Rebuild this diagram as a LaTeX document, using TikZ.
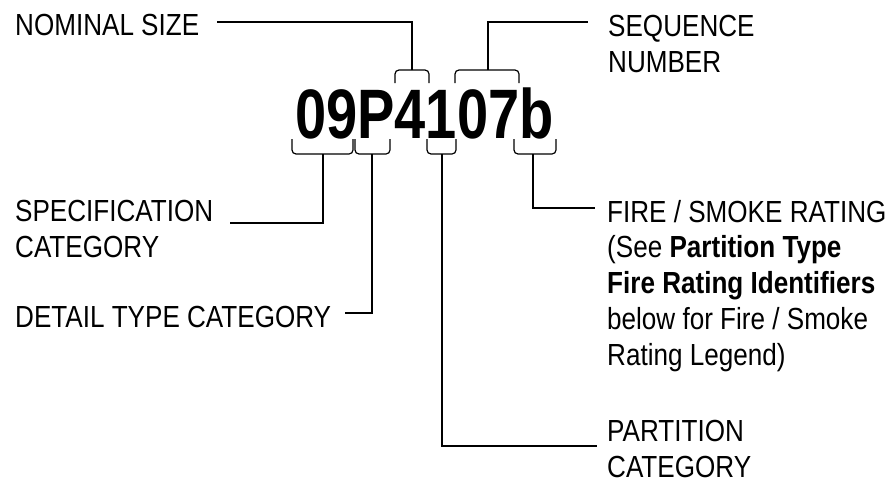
\documentclass[tikz,border=0pt]{standalone}
\usepackage{fontspec}
\setmainfont{Liberation Sans}[FakeStretch=0.855]
\newfontfamily\codefont{Liberation Sans}[FakeStretch=0.8]
\usepackage{tikz}
\tikzstyle{label}=[anchor=base west, inner sep=0pt, align=left, font=\fontsize{30.5}{35.7}\selectfont]
\tikzstyle{code}=[anchor=base west, inner sep=0pt, font=\codefont\bfseries\fontsize{70}{70}\selectfont]
\tikzstyle{brace}=[draw=black, line width=1.2pt, rounded corners=4pt]
\tikzstyle{leader}=[draw=black, line width=1.2pt]

\begin{document}
\begin{tikzpicture}[x=1pt, y=-1pt]
				\useasboundingbox (0,0) rectangle (894,482);
				\node [style=code] (code) at (295, 138) {09P4107b};
				\node [style=label] (nom) at (15, 35) {NOMINAL SIZE};
				\node [style=label] (seq) at (608, 72) {SEQUENCE\\NUMBER};
				\node [style=label] (spec) at (15, 257) {SPECIFICATION\\CATEGORY};
				\node [style=label] (det) at (15, 327) {DETAIL TYPE CATEGORY};
				\node [style=label] (fire) at (607, 365) {FIRE / SMOKE RATING\\(See \textbf{Partition Type}\\\textbf{Fire Rating Identifiers}\\below for Fire / Smoke\\Rating Legend)};
				\node [style=label] (part) at (607, 477) {PARTITION\\CATEGORY};
				\coordinate (b4) at (412, 70);
				\coordinate (b07) at (488, 70);
				\coordinate (b09) at (323, 154);
				\coordinate (bP) at (372, 154);
				\coordinate (b1) at (442, 154);
				\coordinate (bb) at (533, 154);
				\coordinate (nomend) at (217, 22);
				\coordinate (seqend) at (588, 22);
				\coordinate (specend) at (230, 223);
				\coordinate (detend) at (345, 313);
				\coordinate (partend) at (597, 446);
				\coordinate (fireend) at (595, 208);
				\draw [style=brace] (395, 83) -- (395, 70) -- (429, 70) -- (429, 83);
				\draw [style=brace] (455, 83) -- (455, 70) -- (519, 70) -- (519, 83);
				\draw [style=brace] (292, 139) -- (292, 154) -- (353, 154) -- (353, 139);
				\draw [style=brace] (355, 139) -- (355, 154) -- (390, 154) -- (390, 139);
				\draw [style=brace] (427, 139) -- (427, 154) -- (456, 154) -- (456, 139);
				\draw [style=brace] (514, 139) -- (514, 154) -- (556, 154) -- (556, 139);
				\draw [style=leader] (b4) |- (nomend);
				\draw [style=leader] (b07) |- (seqend);
				\draw [style=leader] (b09) |- (specend);
				\draw [style=leader] (bP) |- (detend);
				\draw [style=leader] (b1) |- (partend);
				\draw [style=leader] (bb) |- (fireend);
			\end{tikzpicture}
\end{document}
